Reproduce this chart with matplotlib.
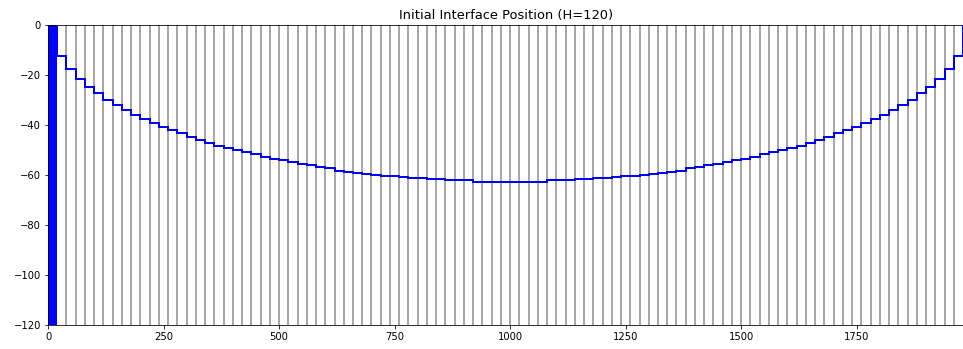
"""
Posición inicial de la interfaz sobre una malla de columnas de 20 m.
"""

import numpy as np
import matplotlib.pyplot as plt

H = 120
dx = 20
n_cols = 99

# profundidad de la interfaz en cada columna (columnas 1..98)
depth = [
    -12.5, -17.4, -21.4, -24.6, -27.2, -29.9, -32.0, -34.0, -36.0, -37.7,
    -39.0, -40.7, -42.1, -43.3, -44.7, -46.0, -47.1, -48.2, -49.2, -50.0,
    -50.9, -51.7, -52.6, -53.5, -54.1, -54.9, -55.5, -56.1, -56.7, -57.2,
    -58.2, -58.7, -59.1, -59.5, -59.9, -60.2, -60.4, -60.8, -61.2, -61.2,
    -61.6, -61.6, -62.1, -62.1, -62.1, -62.8, -62.8, -62.8, -62.8,
    -62.8, -62.8, -62.8, -62.8, -62.1, -62.1, -62.1, -61.6, -61.6, -61.2,
    -61.2, -60.8, -60.4, -60.2, -59.9, -59.5, -59.1, -58.7, -58.2, -57.2,
    -56.7, -56.1, -55.5, -54.9, -54.1, -53.5, -52.6, -51.7, -50.9, -50.0,
    -49.2, -48.2, -47.1, -46.0, -44.7, -43.3, -42.1, -40.7, -39.0, -37.7,
    -36.0, -34.0, -32.0, -29.9, -27.2, -24.6, -21.4, -17.4, -12.5,
]

x_ticks = [0, 250, 500, 750, 1000, 1250, 1500, 1750]
y_ticks = [0, -20, -40, -60, -80, -100, -120]


def plot_interfaz():
    fig = plt.figure(figsize=(963 / 72, 349 / 72), dpi=72)
    ax = fig.add_axes([48 / 963, 24 / 349, 916.4 / 963, 300 / 349])

    edges = np.arange(n_cols + 1) * dx

    # líneas de la malla
    ax.vlines(edges[2:-1], -H, 0, color='#999999', lw=1.7, zorder=1)

    # columna de pared
    ax.bar(edges[0], -H, width=dx, align='edge', color='blue', zorder=2)

    # interfaz
    ax.stairs(depth, edges[1:], baseline=0, color='blue', lw=2, zorder=3)

    ax.set_xlim(0, edges[-1] + 3)
    ax.set_ylim(-H, 0)
    ax.set_xticks(x_ticks)
    ax.set_yticks(y_ticks)
    ax.set_title(f"Initial Interface Position (H={H})", fontsize=13)

    return fig


if __name__ == "__main__":
    fig = plot_interfaz()
    fig.savefig("out.png", dpi=72)
